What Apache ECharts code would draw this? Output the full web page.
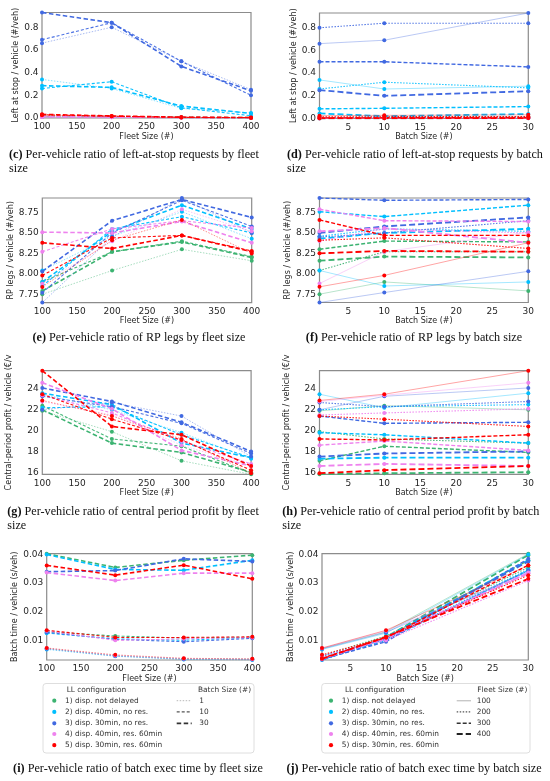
<!DOCTYPE html>
<html><head><meta charset="utf-8">
<script src="https://cdn.jsdelivr.net/npm/echarts@6.0.0/dist/echarts.min.js"></script>
<style>html,body{margin:0;padding:0;background:#fff}#c{width:550px;height:781px}</style>
</head><body><div id="c"></div><script>
// ---------- categories ----------
const fleetSizes = [100, 200, 300, 400];
const batchSizes = [1, 10, 30];
const configNames = ['1) disp. not delayed', '2) disp. 40min, no res.', '3) disp. 30min, no res.', '4) disp. 40min, res. 60min', '5) disp. 30min, res. 60min'];

// ---------- tick labels ----------
const fleetTicks = [100, 150, 200, 250, 300, 350, 400];
const batchTicks = [5, 10, 15, 20, 25, 30];
const lasTicks = [0, 0.2, 0.4, 0.6, 0.8];
const rpTicks = [7.75, 8.0, 8.25, 8.5, 8.75];
const profitTicks = [16, 18, 20, 22, 24];
const timeTicks = [0.01, 0.02, 0.03, 0.04];

// ---------- values: rows = batch size (1, 10, 30), columns = fleet size (100..400) ----------
// Left at stop / vehicle
const las1 = [[0.010, 0.008, 0.004, 0.000], [0.012, 0.009, 0.005, 0.002], [0.015, 0.010, 0.006, 0.003]];
const las2 = [[0.34, 0.26, 0.085, 0.045], [0.26, 0.32, 0.09, 0.02], [0.285, 0.27, 0.105, 0.04]];
const las3 = [[0.66, 0.80, 0.50, 0.25], [0.69, 0.84, 0.50, 0.20], [0.93, 0.84, 0.455, 0.24]];
const las4 = [[0.008, 0.006, 0.003, 0.001], [0.010, 0.007, 0.004, 0.002], [0.012, 0.008, 0.004, 0.002]];
const las5 = [[0.025, 0.015, 0.005, 0.003], [0.028, 0.016, 0.006, 0.003], [0.032, 0.018, 0.007, 0.004]];
// RP legs / vehicle
const rp1 = [[7.75, 8.04, 8.30, 8.16], [7.90, 8.27, 8.40, 8.21], [7.79, 8.27, 8.39, 8.20]];
const rp2 = [[8.04, 8.46, 8.76, 8.43], [7.85, 8.55, 8.70, 8.50], [7.90, 8.52, 8.84, 8.55]];
const rp3 = [[7.648, 8.45, 8.928, 8.50], [7.77, 8.50, 8.90, 8.58], [8.03, 8.65, 8.91, 8.69]];
const rp4 = [[7.88, 8.40, 8.79, 8.52], [8.27, 8.55, 8.65, 8.56], [8.51, 8.50, 8.64, 8.38]];
const rp5 = [[7.84, 8.41, 8.66, 8.25], [7.98, 8.44, 8.47, 8.28], [8.38, 8.31, 8.47, 8.27]];
// Central-period profit / vehicle
const pr1 = [[21.9, 19.9, 17.1, 15.8], [22.4, 19.2, 18.5, 15.9], [22.0, 18.8, 17.9, 16.0]];
const pr2 = [[23.5, 22.0, 19.8, 17.3], [22.2, 22.3, 19.6, 17.4], [23.6, 22.5, 18.8, 17.4]];
const pr3 = [[22.0, 22.7, 21.4, 17.5], [23.3, 22.3, 20.7, 17.8], [24.1, 22.8, 20.8, 18.0]];
const pr4 = [[22.8, 21.5, 18.6, 16.6], [23.4, 21.7, 19.0, 16.8], [24.6, 22.1, 18.1, 16.6]];
const pr5 = [[22.9, 21.4, 19.2, 15.9], [23.5, 21.1, 19.1, 16.2], [25.76, 20.4, 19.6, 16.6]];
// Batch time / vehicle
const bt1 = [[0.0071, 0.0046, 0.0035, 0.0034], [0.0130, 0.0115, 0.0108, 0.0111], [0.0403, 0.0355, 0.0380, 0.0398]];
const bt2 = [[0.0068, 0.0044, 0.0033, 0.0031], [0.0125, 0.0105, 0.0100, 0.0110], [0.0400, 0.0348, 0.0345, 0.0380]];
const bt3 = [[0.0070, 0.0045, 0.0034, 0.0033], [0.0128, 0.0103, 0.0095, 0.0107], [0.0340, 0.0344, 0.0385, 0.0376]];
const bt4 = [[0.0072, 0.0047, 0.0036, 0.0034], [0.0133, 0.0100, 0.0105, 0.0110], [0.0337, 0.0309, 0.0335, 0.0335]];
const bt5 = [[0.0073, 0.0049, 0.0037, 0.0035], [0.0135, 0.0110, 0.0110, 0.0112], [0.0362, 0.0328, 0.0363, 0.0315]];

const leftAtStop = [las1, las2, las3, las4, las5];
const rpLegs = [rp1, rp2, rp3, rp4, rp5];
const profit = [pr1, pr2, pr3, pr4, pr5];
const batchTime = [bt1, bt2, bt3, bt4, bt5];

// ---------- styles ----------
const FONT = 'DejaVu Sans';
const SERIF = 'Liberation Serif';
const colors = ['#3cb371', '#00bfff', '#4169e1', '#ee82ee', '#ff0000'];
const batchStyles = [
  { width: 0.9, type: [1.5, 1.5], opacity: 0.5 },
  { width: 1.1, type: [3, 2], opacity: 0.95 },
  { width: 1.6, type: [4.5, 2.5], opacity: 1 }
];
const fleetStyles = [
  { width: 0.9, type: 'solid', opacity: 0.4 },
  { width: 1.1, type: [1.5, 1.5], opacity: 0.9 },
  { width: 1.4, type: [4, 2], opacity: 1 },
  { width: 1.8, type: [6, 3], opacity: 1 }
];

const panels = [
  { by: 'fleet', m: leftAtStop, ticks: lasTicks, dec: 1, name: 'Left at stop / vehicle (#/veh)', gap: 22.5, grid: { left: 42, top: 12.5, width: 209, height: 105.5 } },
  { by: 'batch', m: leftAtStop, ticks: lasTicks, dec: 1, name: 'Left at stop / vehicle (#/veh)', gap: 20.5, grid: { left: 319.5, top: 13, width: 208.8, height: 105.5 } },
  { by: 'fleet', m: rpLegs, ticks: rpTicks, dec: 2, name: 'RP legs / vehicle (#/veh)', gap: 24, grid: { left: 42.3, top: 198, width: 209.4, height: 104.6 } },
  { by: 'batch', m: rpLegs, ticks: rpTicks, dec: 2, name: 'RP legs / vehicle (#/veh)', gap: 27, grid: { left: 319.5, top: 198, width: 208.8, height: 104.5 } },
  { by: 'fleet', m: profit, ticks: profitTicks, dec: 0, name: 'Central-period profit / vehicle (€/v', gap: 29, grid: { left: 42.3, top: 370.7, width: 208.8, height: 103.6 } },
  { by: 'batch', m: profit, ticks: profitTicks, dec: 0, name: 'Central-period profit / vehicle (€/v', gap: 29, grid: { left: 319.5, top: 370.7, width: 208.8, height: 103.6 } },
  { by: 'fleet', m: batchTime, ticks: timeTicks, dec: 2, name: 'Batch time / vehicle (s/veh)', gap: 27, grid: { left: 46.7, top: 553.7, width: 205.6, height: 106.3 } },
  { by: 'batch', m: batchTime, ticks: timeTicks, dec: 2, name: 'Batch time / vehicle (s/veh)', gap: 27, grid: { left: 322, top: 553.7, width: 206.3, height: 106.3 } }
];

const grid = [], xAxis = [], yAxis = [], series = [];
panels.forEach((p, gi) => {
  grid.push(Object.assign({ show: true, borderColor: '#8c8c8c', borderWidth: 1.2, backgroundColor: 'transparent' }, p.grid));
  const isFleet = p.by === 'fleet';
  xAxis.push({
    type: 'value', gridIndex: gi, min: 'dataMin', max: 'dataMax',
    name: isFleet ? 'Fleet Size (#)' : 'Batch Size (#)', nameLocation: 'middle', nameGap: 14.5,
    nameTextStyle: { fontFamily: FONT, fontSize: 8, color: '#262626' },
    axisLine: { show: false }, axisTick: { show: false }, splitLine: { show: false },
    axisLabel: { customValues: isFleet ? fleetTicks : batchTicks, fontFamily: FONT, fontSize: 9, color: '#262626', margin: 4.5 }
  });
  yAxis.push({
    type: 'value', gridIndex: gi, min: 'dataMin', max: 'dataMax',
    name: p.name, nameLocation: 'middle', nameGap: p.gap,
    nameTextStyle: { fontFamily: FONT, fontSize: 8, color: '#262626' },
    axisLine: { show: false }, axisTick: { show: false }, splitLine: { show: false },
    axisLabel: { customValues: p.ticks, fontFamily: FONT, fontSize: 9, color: '#262626', margin: 3.5, formatter: v => Number(v).toFixed(p.dec) }
  });
  p.m.forEach((cfg, ci) => {
    if (isFleet) {
      batchSizes.forEach((b, bi) => series.push(mkLine(gi, fleetSizes.map((f, fi) => [f, cfg[bi][fi]]), colors[ci], batchStyles[bi])));
    } else {
      fleetSizes.forEach((f, fi) => series.push(mkLine(gi, batchSizes.map((b, bi) => [b, cfg[bi][fi]]), colors[ci], fleetStyles[fi])));
    }
  });
});

function mkLine(gi, data, color, st) {
  return {
    type: 'line', xAxisIndex: gi, yAxisIndex: gi, data, symbol: 'circle', symbolSize: 4,
    showSymbol: true, showAllSymbol: true, silent: true, animation: false, clip: true,
    itemStyle: { color, borderWidth: 0 },
    lineStyle: { color, width: st.width, type: st.type, opacity: st.opacity },
    emphasis: { disabled: true }
  };
}

// ---------- captions ----------
const CAP_SIZE = 12.2;
const capFont = { fontFamily: SERIF, fontSize: CAP_SIZE, fill: '#111' };
const captions = [
  { t: '{b|(c)} Per-vehicle ratio of left-at-stop requests by fleet\nsize', x: 9, y: 148, align: 'left' },
  { t: '{b|(d)} Per-vehicle ratio of left-at-stop requests by batch\nsize', x: 287, y: 148, align: 'left' },
  { t: '{b|(e)} Per-vehicle ratio of RP legs by fleet size', x: 139, y: 331.3, align: 'center' },
  { t: '{b|(f)} Per-vehicle ratio of RP legs by batch size', x: 414, y: 331.3, align: 'center' },
  { t: '{b|(g)} Per-vehicle ratio of central period profit by fleet\nsize', x: 7.3, y: 504.7, align: 'left' },
  { t: '{b|(h)} Per-vehicle ratio of central period profit by batch\nsize', x: 282.3, y: 504.7, align: 'left' },
  { t: '{b|(i)} Per-vehicle ratio of batch exec time by fleet size', x: 138, y: 762.3, align: 'center' },
  { t: '{b|(j)} Per-vehicle ratio of batch exec time by batch size', x: 414, y: 762.3, align: 'center' }
];
const graphic = captions.map(c => ({
  type: 'text', x: c.x, y: c.y, silent: true,
  style: Object.assign({ text: c.t, align: c.align, verticalAlign: 'top', lineHeight: 14,
    rich: { b: { fontWeight: 'bold', fontFamily: SERIF, fontSize: CAP_SIZE, lineHeight: 14 } } }, capFont)
}));

// ---------- legends ----------
const legFont = { fontFamily: FONT, fontSize: 7.4, fill: '#333', verticalAlign: 'middle' };
const rowY = [700.7, 711.9, 723.3, 734, 745.2];
const batchLegend = [
  { stroke: '#b0b0b0', lineWidth: 0.9, lineDash: [1.5, 1.5] },
  { stroke: '#555', lineWidth: 1.1, lineDash: [3, 2] },
  { stroke: '#333', lineWidth: 1.7, lineDash: [4.5, 2.5] }
];
const fleetLegend = [
  { stroke: '#c8c8c8', lineWidth: 1.4, lineDash: null },
  { stroke: '#555', lineWidth: 1.1, lineDash: [1.5, 1.5] },
  { stroke: '#333', lineWidth: 1.5, lineDash: [4, 2] },
  { stroke: '#222', lineWidth: 1.8, lineDash: [6, 3] }
];
function addLegend(bx, bw, mx, tx, titleX, lineX1, lineX2, lblX, styleTitle, lineStyles, lineLabels) {
  graphic.push({ type: 'rect', silent: true, z: 10, shape: { x: bx, y: 683.5, width: bw, height: 69.5, r: 3 },
    style: { fill: '#fff', stroke: '#d6d6d6', lineWidth: 0.8 } });
  graphic.push({ type: 'text', silent: true, z: 11, x: titleX, y: 689.6, style: Object.assign({ text: 'LL configuration' }, legFont) });
  configNames.forEach((n, i) => {
    graphic.push({ type: 'circle', silent: true, z: 11, shape: { cx: mx, cy: rowY[i], r: 2.1 }, style: { fill: colors[i] } });
    graphic.push({ type: 'text', silent: true, z: 11, x: tx, y: rowY[i], style: Object.assign({ text: n }, legFont) });
  });
  graphic.push({ type: 'text', silent: true, z: 11, x: styleTitle.x, y: 689.6, style: Object.assign({ text: styleTitle.t }, legFont) });
  lineLabels.forEach((lab, i) => {
    graphic.push({ type: 'line', silent: true, z: 11, shape: { x1: lineX1, y1: rowY[i], x2: lineX2, y2: rowY[i] }, style: lineStyles[i] });
    graphic.push({ type: 'text', silent: true, z: 11, x: lblX, y: rowY[i], style: Object.assign({ text: String(lab) }, legFont) });
  });
}
addLegend(43, 211, 54.3, 65, 66.7, 176.7, 191.7, 199.3, { t: 'Batch Size (#)', x: 198 }, batchLegend, batchSizes);
addLegend(321.7, 208.3, 331, 341.7, 345, 456.7, 471, 476.7, { t: 'Fleet Size (#)', x: 477.3 }, fleetLegend, fleetSizes);

const chart = echarts.init(document.getElementById('c'), null, { renderer: 'canvas' });
chart.setOption({ animation: false, backgroundColor: '#fff', grid, xAxis, yAxis, series, graphic });
</script></body></html>
